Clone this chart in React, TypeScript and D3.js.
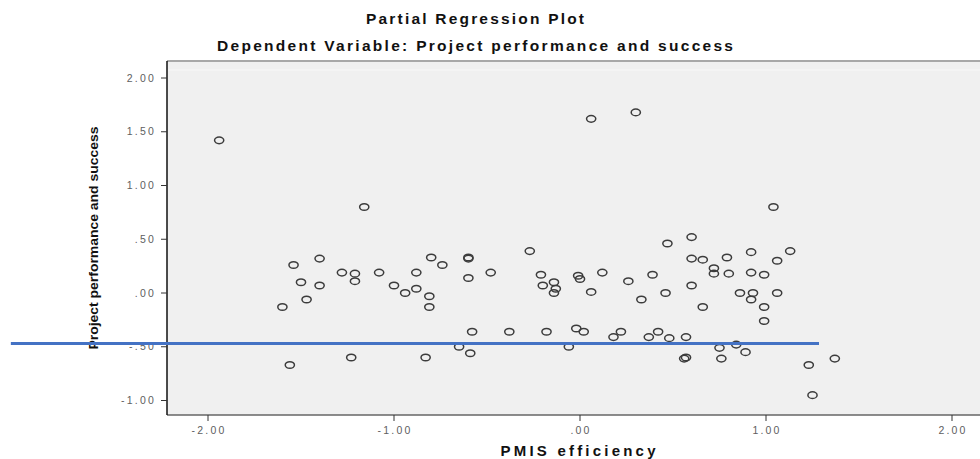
import React from 'react'
import * as d3 from 'd3'

const titleMain = 'Partial Regression Plot'
const titleSub = 'Dependent Variable: Project performance and success'
const xTitle = 'PMIS efficiency'
const yTitle = 'Project performance and success'

const xTicks = [-2, -1, 0, 1, 2]
const xTickLabels = ['-2.00', '-1.00', '.00', '1.00', '2.00']
const yTicks = [2, 1.5, 1, 0.5, 0, -0.5, -1]
const yTickLabels = ['2.00', '1.50', '1.00', '.50', '.00', '-.50', '-1.00']

// residuals
const pmis = [
  -1.94, -1.16, 0.06, 0.30, 1.04, -1.60, -1.54, -1.50, -1.47, -1.40,
  -1.40, -1.56, -1.28, -1.21, -1.21, -1.23, -1.08, -1.00, -0.94, -0.88,
  -0.88, -0.80, -0.74, -0.81, -0.81, -0.83, -0.60, -0.60, -0.60, -0.65,
  -0.58, -0.59, -0.48, -0.38, -0.27, -0.21, -0.20, -0.14, -0.13, -0.14,
  -0.18, -0.06, -0.01, 0.00, 0.06, 0.12, 0.26, 0.33, 0.39, 0.46,
  0.47, 0.60, 0.60, 0.66, 0.72, 0.72, 0.79, 0.80, 0.92, 0.92,
  0.99, 1.13, 1.06, 0.60, 0.66, 0.86, 0.93, 0.92, 1.06, 0.99,
  0.99, -0.02, 0.02, 0.18, 0.22, 0.37, 0.42, 0.48, 0.57, 0.56,
  0.57, 0.75, 0.76, 0.84, 0.89, 1.23, 1.37, 1.25,
]
const performance = [
  1.42, 0.80, 1.62, 1.68, 0.80, -0.13, 0.26, 0.10, -0.06, 0.32,
  0.07, -0.67, 0.19, 0.18, 0.11, -0.60, 0.19, 0.07, 0.00, 0.04,
  0.19, 0.33, 0.26, -0.03, -0.13, -0.60, 0.33, 0.32, 0.14, -0.50,
  -0.36, -0.56, 0.19, -0.36, 0.39, 0.17, 0.07, 0.10, 0.04, 0.00,
  -0.36, -0.50, 0.16, 0.13, 0.01, 0.19, 0.11, -0.06, 0.17, 0.00,
  0.46, 0.52, 0.32, 0.31, 0.23, 0.18, 0.33, 0.18, 0.38, 0.19,
  0.17, 0.39, 0.30, 0.07, -0.13, 0.00, 0.00, -0.06, 0.00, -0.13,
  -0.26, -0.33, -0.36, -0.41, -0.36, -0.41, -0.36, -0.42, -0.41, -0.61,
  -0.60, -0.51, -0.61, -0.48, -0.55, -0.67, -0.61, -0.95,
]

// blue line drawn over the chart
const markLineY = -0.47
const markLineX = [-3.06, 1.285]

const W = 980
const H = 459
const plot = { left: 167, right: 980, top: 61, bottom: 415 }

export default function App() {
  const x = d3.scaleLinear().domain([-2, 2]).range([208, 952])
  const y = d3.scaleLinear().domain([-1, 2]).range([400.5, 78])
  const font = 'Liberation Sans, Arial, sans-serif'

  return (
    <svg width={W} height={H} style={{ position: 'absolute', left: 0, top: 0, background: '#fff' }}>
      <text x={475} y={24} textAnchor="middle" fontFamily={font} fontWeight="bold" fontSize={15.5}
        textLength={218} lengthAdjust="spacing" fill="#111">{titleMain}</text>
      <text x={475} y={51} textAnchor="middle" fontFamily={font} fontWeight="bold" fontSize={15.5}
        textLength={516} lengthAdjust="spacing" fill="#111">{titleSub}</text>

      <rect x={plot.left} y={plot.top} width={plot.right - plot.left} height={plot.bottom - plot.top} fill="#f0f0f0" />
      <line x1={plot.left} x2={plot.right} y1={plot.top} y2={plot.top} stroke="#a8a8a8" strokeWidth={2} />
      <line x1={plot.left} x2={plot.right} y1={70} y2={70} stroke="#f8f8f8" strokeWidth={1} />

      {pmis.map((d, i) => (
        <ellipse key={i} cx={x(d)} cy={y(performance[i])} rx={4.6} ry={3.3}
          fill="none" stroke="#3c3c3c" strokeWidth={1.5} />
      ))}

      <line x1={plot.left} x2={plot.right} y1={plot.bottom} y2={plot.bottom} stroke="#666" strokeWidth={1.5} />
      <line x1={plot.left} x2={plot.left} y1={plot.top} y2={plot.bottom} stroke="#111" strokeWidth={1.5} />

      {yTicks.map((t, i) => (
        <g key={t}>
          <line x1={plot.left - 6} x2={plot.left} y1={y(t)} y2={y(t)} stroke="#333" />
          <text x={plot.left - 11} y={y(t)} dy="0.35em" textAnchor="end" fontFamily={font} fontSize={10.5}
            letterSpacing={2.2} fill="#606060">{yTickLabels[i]}</text>
        </g>
      ))}
      {xTicks.map((t, i) => (
        <g key={t}>
          <line x1={x(t)} x2={x(t)} y1={plot.bottom} y2={plot.bottom + 6} stroke="#333" />
          <text x={x(t) + 1} y={434} textAnchor="middle" fontFamily={font} fontSize={10.5}
            letterSpacing={2.2} fill="#606060">{xTickLabels[i]}</text>
        </g>
      ))}

      <text x={578} y={456} textAnchor="middle" fontFamily={font} fontWeight="bold" fontSize={15}
        textLength={155} lengthAdjust="spacing" fill="#111">{xTitle}</text>
      <text transform="translate(98,238) rotate(-90)" textAnchor="middle"
        fontFamily="Liberation Sans Narrow, Arial Narrow, sans-serif" fontWeight="bold" fontSize={13.5}
        textLength={223} lengthAdjust="spacingAndGlyphs" fill="#111">{yTitle}</text>

      <line x1={x(markLineX[0])} x2={x(markLineX[1])} y1={y(markLineY)} y2={y(markLineY)}
        stroke="#4472c4" strokeWidth={3} />
    </svg>
  )
}
